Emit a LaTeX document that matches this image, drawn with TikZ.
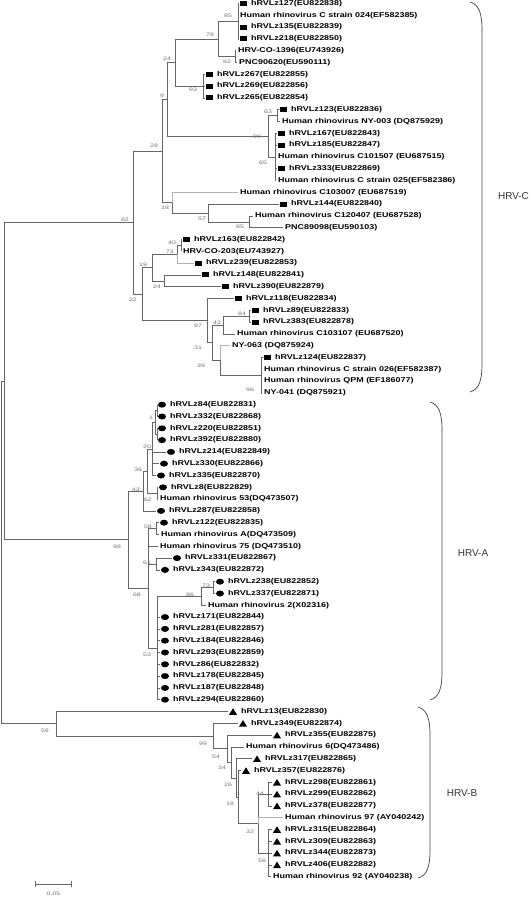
\documentclass[tikz,border=0pt]{standalone}
\usepackage{fontspec}
\setmainfont{Liberation Sans}
\newfontfamily\leaffont[FakeStretch=1.28]{Liberation Sans}
\newfontfamily\bootfont[FakeStretch=1.4]{Liberation Sans}
\usetikzlibrary{positioning,shapes.geometric}

\tikzset{
  br/.style={draw=black!60,line width=0.6pt},
  brl/.style={draw=black!30,line width=0.6pt},
  mksq/.style={rectangle,fill=black,minimum width=7pt,minimum height=5pt,inner sep=0pt,outer xsep=1pt},
  mkci/.style={ellipse,fill=black,minimum width=8pt,minimum height=6pt,inner sep=0pt,outer xsep=1pt},
  mktr/.style={rectangle,minimum width=8pt,minimum height=6.5pt,inner sep=0pt,outer xsep=1pt,
    path picture={\fill (path picture bounding box.south west) -- (path picture bounding box.south east) -- (path picture bounding box.north) -- cycle;}},
  mkno/.style={inner sep=0pt,minimum size=0pt,outer xsep=-0.5pt},
  lab/.style={font={\leaffont\bfseries\fontsize{7}{8}\selectfont},inner sep=0pt},
  boot/.style={font={\bootfont\fontsize{5}{5}\selectfont},text=black!55,inner sep=0pt},
  grp/.style={font={\fontsize{10}{12}\selectfont},text=black!80,inner sep=0pt},
  brk/.style={draw=black!75,line width=0.7pt}
}

\begin{document}
\begin{tikzpicture}[x=1pt,y=-11.8pt]
\useasboundingbox (0,-0.2966) rectangle (532,76.229);

\foreach \n/\x/\y in {n85a/238/1.5, n82a/235/4.5, n78/218/3, n93/203/7, n24a/175/5,
  n63/277/9.5, n65/275/13, n99a/268/11.25, n9/167/8.125, n85b/249/18.5, n57/208/17.75,
  n18a/172/16.875, n28/162/12.5, n40/181/20.5, n73a/177/21.25, n24b/164/23.5,
  n19/152/22.375, n84/249/26.5, n42/223/27.25, n96/261/31.5, n39/220/30.25,
  n31/212/28.75, n87/207/26.875, n22/142/24.625, n82b/133/18.5625,
  n1a/157/34.5, n1b/157/36.5, n1/155/35.5, n20/152/37.75, n62/157/41.5, n36/147/39.625,
  n43/143/41.3125, n58/156/44.5, n61/156/47.5, n73b/213/49.5, n86/201/50.25,
  n53/157/54.625, n68/148/49.5625, n98/128/45.4375, nCA/4/32,
  n44/268/67, n56/268/72, n32/258/69.5, n18b/238/67.25, n26/236/65.625,
  n34/231/64.3125, n54/227/63.15625, n99b/213/62.078, n59/56/61.039, root/1/46.52}
  \coordinate (\n) at (\x,\y);

\foreach \r/\x/\m/\t in {
  0/239/mksq/{hRVLz127(EU822838)},
  1/238/mkno/{Human rhinovirus C strain 024(EF582385)},
  2/239/mksq/{hRVLz135(EU822839)},
  3/239/mksq/{hRVLz218(EU822850)},
  4/236/mkno/{HRV-CO-1396(EU743926)},
  5/237/mkno/{PNC90620(EU590111)},
  6/205/mksq/{hRVLz267(EU822855)},
  7/205/mksq/{hRVLz269(EU822856)},
  8/205/mksq/{hRVLz265(EU822854)},
  9/279/mksq/{hRVLz123(EU822836)},
  10/280/mkno/{Human rhinovirus NY-003 (DQ875929)},
  11/277/mksq/{hRVLz167(EU822843)},
  12/277/mksq/{hRVLz185(EU822847)},
  13/276/mkno/{Human rhinovirus C101507 (EU687515)},
  14/277/mksq/{hRVLz333(EU822869)},
  15/276/mkno/{Human rhinovirus C strain 025(EF582386)},
  16/238/mkno/{Human rhinovirus C103007 (EU687519)},
  17/279/mksq/{hRVLz144(EU822840)},
  18/253/mkno/{Human rhinovirus C120407 (EU687528)},
  19/283/mkno/{PNC89098(EU590103)},
  20/182/mksq/{hRVLz163(EU822842)},
  21/181/mkno/{HRV-CO-203(EU743927)},
  22/194/mksq/{hRVLz239(EU822853)},
  23/201/mksq/{hRVLz148(EU822841)},
  24/221/mksq/{hRVLz390(EU822879)},
  25/234/mksq/{hRVLz118(EU822834)},
  26/251/mksq/{hRVLz89(EU822833)},
  27/251/mksq/{hRVLz383(EU822878)},
  28/235/mkno/{Human rhinovirus C103107 (EU687520)},
  29/230/mkno/{NY-063 (DQ875924)},
  30/263/mksq/{hRVLz124(EU822837)},
  31/262/mkno/{Human rhinovirus C strain 026(EF582387)},
  32/262/mkno/{Human rhinovirus QPM (EF186077)},
  33/262/mkno/{NY-041 (DQ875921)},
  34/157/mkci/{hRVLz84(EU822831)},
  35/157/mkci/{hRVLz332(EU822868)},
  36/157/mkci/{hRVLz220(EU822851)},
  37/157/mkci/{hRVLz392(EU822880)},
  38/166/mkci/{hRVLz214(EU822849)},
  39/159/mkci/{hRVLz330(EU822866)},
  40/156/mkci/{hRVLz335(EU822870)},
  41/158/mkci/{hRVLz8(EU822829)},
  42/158/mkno/{Human rhinovirus 53(DQ473507)},
  43/156/mkci/{hRVLz287(EU822858)},
  44/159/mkci/{hRVLz122(EU822835)},
  45/159/mkno/{Human rhinovirus A(DQ473509)},
  46/158/mkno/{Human rhinovirus 75 (DQ473510)},
  47/172/mkci/{hRVLz331(EU822867)},
  48/160/mkci/{hRVLz343(EU822872)},
  49/215/mkci/{hRVLz238(EU822852)},
  50/215/mkci/{hRVLz337(EU822871)},
  51/206/mkno/{Human rhinovirus 2(X02316)},
  52/160/mkci/{hRVLz171(EU822844)},
  53/160/mkci/{hRVLz281(EU822857)},
  54/160/mkci/{hRVLz184(EU822846)},
  55/160/mkci/{hRVLz293(EU822859)},
  56/160/mkci/{hRVLz86(EU822832)},
  57/160/mkci/{hRVLz178(EU822845)},
  58/160/mkci/{hRVLz187(EU822848)},
  59/160/mkci/{hRVLz294(EU822860)},
  60/228/mktr/{hRVLz13(EU822830)},
  61/238/mktr/{hRVLz349(EU822874)},
  62/272/mktr/{hRVLz355(EU822875)},
  63/244/mkno/{Human rhinovirus 6(DQ473486)},
  64/252/mktr/{hRVLz317(EU822865)},
  65/241/mktr/{hRVLz357(EU822876)},
  66/272/mktr/{hRVLz298(EU822861)},
  67/272/mktr/{hRVLz299(EU822862)},
  68/272/mktr/{hRVLz378(EU822877)},
  69/283/mkno/{Human rhinovirus 97 (AY040242)},
  70/272/mktr/{hRVLz315(EU822864)},
  71/272/mktr/{hRVLz309(EU822863)},
  72/272/mktr/{hRVLz344(EU822873)},
  73/272/mktr/{hRVLz406(EU822882)},
  74/271/mkno/{Human rhinovirus 92 (AY040238)}}
{
  \coordinate (l\r) at (\x,\r);
  \node[\m,anchor=west] (m\r) at (l\r) {};
  \node[lab,right=3pt of m\r] (t\r) {\t};
}

\foreach \p/\c in {n85a/l0, n85a/l1, n85a/l2, n85a/l3, n82a/l4, n82a/l5, n78/n85a, n78/n82a,
  n93/l6, n93/l7, n93/l8, n24a/n78, n24a/n93, n63/l9, n63/l10,
  n65/l11, n65/l12, n65/l13, n65/l14, n65/l15, n99a/n63, n99a/n65, n9/n24a, n9/n99a,
  n85b/l18, n85b/l19, n57/l17, n57/n85b, n18a/n57, n28/n9, n28/n18a,
  n40/l20, n40/l21, n73a/n40, n24b/l23, n24b/l24, n19/n73a, n19/n24b,
  n84/l26, n84/l27, n42/n84, n42/l28, n96/l30, n96/l31, n96/l32, n96/l33, n39/n96,
  n31/n42, n31/n39, n87/l25, n87/n31, n22/n19, n22/n87, n82b/n28, n82b/n22,
  n1a/l34, n1a/l35, n1b/l36, n1b/l37, n1/n1a, n1/n1b, n20/n1, n20/l38, n20/l39, n20/l40,
  n62/l41, n62/l42, n36/n20, n36/n62, n43/n36, n43/l43, n58/l44, n58/l45,
  n61/l47, n61/l48, n73b/l49, n73b/l50, n86/n73b, n86/l51,
  n53/n86, n53/l52, n53/l53, n53/l54, n53/l55, n53/l56, n53/l57, n53/l58, n53/l59,
  n68/n58, n68/l46, n68/n61, n68/n53, n98/n43, n98/n68, nCA/n82b, nCA/n98,
  n44/l66, n44/l67, n44/l68, n56/l70, n56/l71, n56/l72, n56/l73, n56/l74,
  n32/n44, n32/n56, n18b/l65, n18b/n32, n26/l64, n26/n18b, n34/l63, n34/n26,
  n54/l62, n54/n34, n99b/l61, n99b/n54, n59/l60, n59/n99b, root/nCA, root/n59}
  \draw[br] (\p) |- (\c);

\foreach \p/\c in {n18a/l16, n39/l29, n32/l69, n73a/l22}
  \draw[brl] (\p) |- (\c);

\foreach \n/\x/\y/\v in {b85a/228/1.06/85, b78/210/2.67/78, b82a/227/4.96/82, b24a/167/4.70/24,
  b93/193/7.33/93, b9/162/7.84/9, b63/268/9.19/63, b99a/257/11.31/99, b65/263/13.52/65,
  b28/154/12.08/28, b18a/165/17.33/18, b57/202/18.26/57, b85b/240/18.94/85,
  b40/172/20.30/40, b73a/170/21.06/73, b19/143/22.16/19, b24b/157/24.03/24,
  b82b/125/18.35/82, b22/133/25.13/22, b84/242/26.31/84, b87/198/27.33/87,
  b42/217/27.08/42, b31/198/29.19/31, b39/201/30.72/39, b96/250/32.75/96,
  b1/151/35.13/1, b20/147/37.58/20, b36/138/39.53/36, b43/136/41.23/43, b62/148/42.08/62,
  b58/148/44.36/58, b61/147/47.42/61, b98/117/46.06/98, b68/137/50.13/68,
  b73b/206/49.36/73, b86/190/50.13/86, b53/147/55.21/53,
  b59/45/61.65/59, b99b/203/62.75/99, b54/216/63.86/54, b34/222/64.79/34,
  b26/228/66.22/26, b18b/230/67.84/18, b44/260/67.01/44, b32/250/70.21/32, b56/262/72.67/56}
  \node[boot] (\n) at (\x,\y) {\v};

\coordinate (sb1) at (35,74.62);
\coordinate (sb2) at (72,74.62);
\draw[br,|-|] (sb1) -- (sb2);
\node[boot] (sbl) at (53.5,75.47) {0.05};

\draw[brk] (470,-0.13) .. controls (479,0.1) and (482,0.8) .. (482,2.3) -- (482,30.5) .. controls (482,32) and (479,32.7) .. (470,32.92);
\draw[brk] (430,33.77) .. controls (439,34) and (442,34.7) .. (442,36.2) -- (442,56.6) .. controls (442,58.1) and (439,58.8) .. (430,59.02);
\draw[brk] (418,59.62) .. controls (427,59.85) and (430,60.55) .. (430,62) -- (430,71.7) .. controls (430,73.2) and (427,73.9) .. (418,74.11);
\node[grp] (hrvc) at (513.5,16.31) {HRV-C};
\node[grp] (hrva) at (473,46.57) {HRV-A};
\node[grp] (hrvb) at (462,66.9) {HRV-B};

\end{tikzpicture}
\end{document}
